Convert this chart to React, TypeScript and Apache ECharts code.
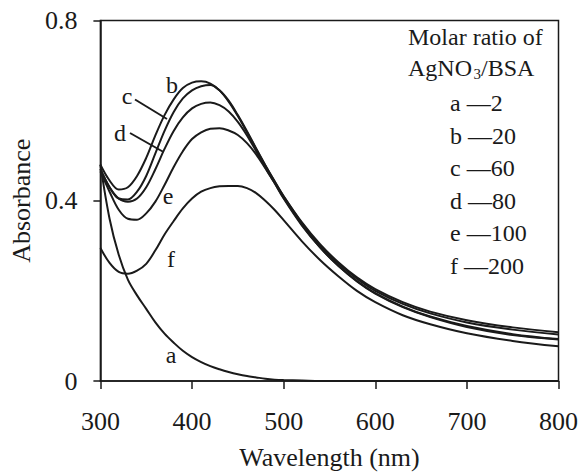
import React, { useEffect, useRef } from "react";
import * as echarts from "echarts";

const wavelengths = [300, 310, 320, 330, 340, 350, 360, 370, 380, 390, 400, 410, 420, 430, 440, 450, 460, 470, 480, 490, 500, 520, 540, 560, 580, 600, 630, 660, 700, 750, 800];

const seriesA = [0.48, 0.36, 0.28, 0.225, 0.19, 0.16, 0.13, 0.105, 0.085, 0.067, 0.053, 0.042, 0.033, 0.026, 0.02, 0.015, 0.011, 0.008, 0.005, 0.003, 0.002, 0.001, 0, 0, 0, 0, 0, 0, 0, 0, 0];
const seriesB = [0.48, 0.445, 0.425, 0.43, 0.455, 0.495, 0.545, 0.59, 0.625, 0.65, 0.662, 0.665, 0.66, 0.645, 0.62, 0.588, 0.552, 0.515, 0.478, 0.443, 0.41, 0.352, 0.303, 0.263, 0.23, 0.204, 0.175, 0.154, 0.135, 0.119, 0.108];
const seriesC = [0.47, 0.43, 0.405, 0.403, 0.42, 0.455, 0.505, 0.555, 0.597, 0.627, 0.645, 0.654, 0.657, 0.645, 0.622, 0.59, 0.554, 0.516, 0.479, 0.444, 0.41, 0.35, 0.3, 0.26, 0.227, 0.2, 0.171, 0.15, 0.13, 0.114, 0.103];
const seriesD = [0.47, 0.43, 0.405, 0.398, 0.405, 0.43, 0.47, 0.515, 0.555, 0.585, 0.605, 0.615, 0.618, 0.612, 0.598, 0.575, 0.545, 0.51, 0.474, 0.44, 0.407, 0.347, 0.296, 0.255, 0.222, 0.195, 0.165, 0.143, 0.122, 0.104, 0.093];
const seriesE = [0.465, 0.42, 0.38, 0.36, 0.358, 0.372, 0.398, 0.435, 0.475, 0.51, 0.537, 0.552, 0.56, 0.561, 0.556, 0.546, 0.528, 0.503, 0.472, 0.44, 0.405, 0.345, 0.296, 0.255, 0.221, 0.194, 0.164, 0.142, 0.12, 0.102, 0.092];
const seriesF = [0.295, 0.262, 0.242, 0.238, 0.245, 0.26, 0.29, 0.325, 0.355, 0.383, 0.405, 0.42, 0.428, 0.432, 0.433, 0.433, 0.428, 0.417, 0.4, 0.38, 0.357, 0.31, 0.268, 0.232, 0.2, 0.175, 0.146, 0.126, 0.106, 0.089, 0.077];

const curveLetters = ["a", "b", "c", "d", "e", "f"];
const ratios = ["2", "20", "60", "80", "100", "200"];
const xTicks = [300, 400, 500, 600, 700, 800];
const yTicks = [0, 0.4, 0.8];

const FONT = "'Liberation Serif', 'Times New Roman', serif";
const INK = "#1a1a1a";

export default function App() {
  const ref = useRef<HTMLDivElement>(null);
  useEffect(() => {
    if (!ref.current) return;
    const chart = echarts.init(ref.current, null, { renderer: "svg" });
    const all = [seriesA, seriesB, seriesC, seriesD, seriesE, seriesF];
    const series = all.map((vals, i) => ({
      name: curveLetters[i],
      type: "line",
      data: wavelengths.map((w, j) => [w, vals[j]]),
      showSymbol: false,
      smooth: 0.35,
      lineStyle: { color: INK, width: 2 },
      z: 3,
    }));

    const legendTexts: any[] = ratios.map((r, i) => ({
      type: "text",
      x: 450,
      y: 103 + i * 32.5,
      style: { text: curveLetters[i] + " \u2014" + r, font: `24px ${FONT}`, fill: INK, verticalAlign: "middle" },
    }));

    const labelPos: [string, number, number][] = [
      ["b", 172, 85],
      ["c", 127, 96],
      ["d", 120, 133],
      ["e", 168, 196],
      ["f", 171, 259],
      ["a", 171, 355],
    ];

    chart.setOption({
      animation: false,
      backgroundColor: "#ffffff",
      grid: {
        left: 100,
        right: 21,
        top: 20.5,
        bottom: 92,
        show: true,
        borderColor: INK,
        borderWidth: 1.5,
        backgroundColor: "transparent",
      },
      xAxis: {
        type: "value",
        min: xTicks[0],
        max: xTicks[xTicks.length - 1],
        interval: 100,
        name: "Wavelength (nm)",
        nameLocation: "middle",
        nameGap: 63,
        nameTextStyle: { fontFamily: FONT, fontSize: 26, color: INK },
        axisLine: { show: true, lineStyle: { color: INK, width: 1.5 } },
        axisTick: { show: true, length: 8, lineStyle: { color: INK, width: 1.5 } },
        axisLabel: { margin: 27, fontFamily: FONT, fontSize: 26, color: INK },
        splitLine: { show: false },
      },
      yAxis: {
        type: "value",
        min: yTicks[0],
        max: yTicks[yTicks.length - 1],
        interval: 0.4,
        name: "Absorbance",
        nameLocation: "middle",
        nameGap: 64,
        nameTextStyle: { fontFamily: FONT, fontSize: 26, color: INK },
        axisLine: { show: true, lineStyle: { color: INK, width: 1.5 } },
        axisTick: { show: true, length: 7, lineStyle: { color: INK, width: 1.5 } },
        axisLabel: { margin: 23, fontFamily: FONT, fontSize: 26, color: INK },
        splitLine: { show: false },
      },
      series,
      graphic: [
        {
          type: "text",
          x: 408,
          y: 37,
          style: { text: "Molar ratio of", font: `24px ${FONT}`, fill: INK, verticalAlign: "middle" },
        },
        {
          type: "text",
          x: 408,
          y: 68,
          style: { text: "AgNO", font: `24px ${FONT}`, fill: INK, verticalAlign: "middle" },
        },
        {
          type: "text",
          x: 473.5,
          y: 74,
          style: { text: "3", font: `15px ${FONT}`, fill: INK, verticalAlign: "middle" },
        },
        {
          type: "text",
          x: 481,
          y: 68,
          style: { text: "/BSA", font: `24px ${FONT}`, fill: INK, verticalAlign: "middle" },
        },
        ...legendTexts,
        ...labelPos.map(([t, x, y]) => ({
          type: "text",
          x,
          y,
          style: { text: t, font: `24px ${FONT}`, fill: INK, align: "center", verticalAlign: "middle" },
        })),
        {
          type: "line",
          shape: { x1: 135, y1: 99.5, x2: 167, y2: 119 },
          style: { stroke: INK, lineWidth: 2 },
        },
        {
          type: "line",
          shape: { x1: 130, y1: 133, x2: 163.5, y2: 152 },
          style: { stroke: INK, lineWidth: 2 },
        },
      ],
    });
    return () => chart.dispose();
  }, []);
  return (
    <div
      ref={ref}
      style={{ position: "fixed", left: 0, top: 0, width: 581, height: 475, background: "#fff" }}
    />
  );
}
